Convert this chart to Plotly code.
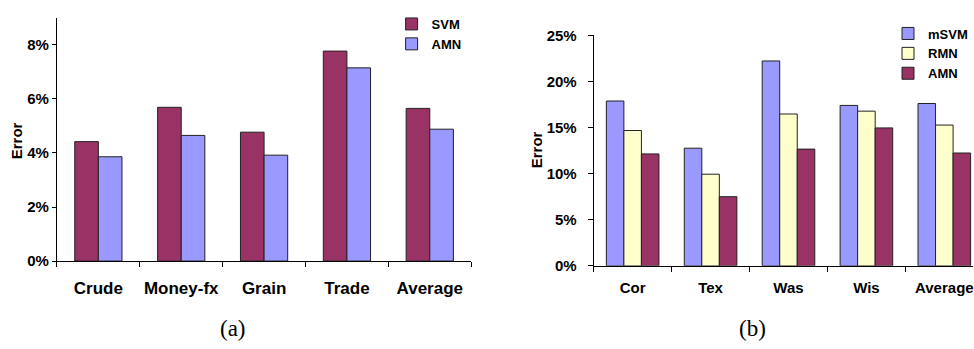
import plotly.graph_objects as go

# ---- data: panel (a) text categorisation error ----
cats_a = ["Crude", "Money-fx", "Grain", "Trade", "Average"]
svm_a = [0.0442, 0.0569, 0.0477, 0.0777, 0.0565]
amn_a = [0.0386, 0.0465, 0.0392, 0.0715, 0.0488]

# ---- data: panel (b) hypertext classification error ----
cats_b = ["Cor", "Tex", "Was", "Wis", "Average"]
msvm_b = [0.1788, 0.1276, 0.2222, 0.1740, 0.1761]
rmn_b = [0.1468, 0.0994, 0.1647, 0.1678, 0.1527]
amn_b = [0.1214, 0.0750, 0.1266, 0.1496, 0.1224]

W, H = 974, 349
MAROON = "#993366"
PERIWINKLE = "#9999FF"
CREAM = "#FFFFCC"
EDGE = "#222222"
FONT = "Liberation Sans"


def px_x(v):
    return v / W


def px_y(v):
    return 1 - v / H


fig = go.Figure()

# panel (a): two bars per category
bw_a = 0.285
fig.add_trace(go.Bar(x=cats_a, y=svm_a, name="SVM", xaxis="x", yaxis="y",
                     width=bw_a, offset=-bw_a,
                     marker=dict(color=MAROON, line=dict(color=EDGE, width=1)),
                     legend="legend"))
fig.add_trace(go.Bar(x=cats_a, y=amn_a, name="AMN", xaxis="x", yaxis="y",
                     width=bw_a, offset=0,
                     marker=dict(color=PERIWINKLE, line=dict(color=EDGE, width=1)),
                     legend="legend"))

# panel (b): three bars per category
bw_b = 0.225
for name, vals, col, off in [("mSVM", msvm_b, PERIWINKLE, -1.5),
                             ("RMN", rmn_b, CREAM, -0.5),
                             ("AMN", amn_b, MAROON, 0.5)]:
    fig.add_trace(go.Bar(x=cats_b, y=vals, name=name, xaxis="x2", yaxis="y2",
                         width=bw_b, offset=off * bw_b,
                         marker=dict(color=col, line=dict(color=EDGE, width=1)),
                         legend="legend2"))

tick_font = dict(family=FONT, size=15, color="black", weight="bold")
axis_common = dict(showline=True, linecolor="black", linewidth=1,
                   showgrid=False, zeroline=False, ticks="outside",
                   tickcolor="black", tickwidth=1, fixedrange=True)
label_font = dict(family=FONT, size=15, color="black", weight="bold")
caption_font = dict(family="Liberation Serif", size=23, color="black")

fig.update_layout(
    width=W, height=H,
    margin=dict(l=0, r=0, t=0, b=0),
    paper_bgcolor="white", plot_bgcolor="white",
    barmode="group",
    font=dict(family=FONT, color="black"),
    xaxis=dict(domain=[px_x(57), px_x(471.7)], anchor="y", type="category",
               range=[-0.5, 4.5], tickson="boundaries", ticklen=5, tickangle=0,
               tickfont=dict(family=FONT, size=17, color="black", weight="bold"),
               ticklabelstandoff=12, **axis_common),
    yaxis=dict(domain=[px_y(265), px_y(9.3)], anchor="x", range=[0, 0.09],
               dtick=0.02, tickformat=".0%", ticklen=4, tickfont=tick_font,
               **axis_common),
    xaxis2=dict(domain=[px_x(594.3), 1.0], anchor="y2", type="category",
                range=[-0.5, (W - 594.3) / 78.0 - 0.5], tickson="boundaries",
                ticklen=5, tickangle=0, tickfont=tick_font, ticklabelstandoff=8,
                **axis_common),
    yaxis2=dict(domain=[px_y(270), px_y(27.7)], anchor="x2", range=[0, 0.25],
                dtick=0.05, tickformat=".0%", ticklen=5, tickfont=tick_font,
                ticklabelstandoff=8, **axis_common),
    legend=dict(x=px_x(392), y=1.0, xanchor="left", yanchor="top",
                bgcolor="rgba(0,0,0,0)", borderwidth=0, tracegroupgap=0,
                font=dict(family=FONT, size=13, color="black", weight="bold")),
    legend2=dict(x=1.0, y=px_y(10), xanchor="right", yanchor="top",
                 bgcolor="rgba(0,0,0,0)", borderwidth=0, tracegroupgap=0,
                 font=dict(family=FONT, size=13, color="black", weight="bold")),
    annotations=[
        dict(text="Error", x=px_x(16), y=px_y(138), textangle=-90,
             font=label_font),
        dict(text="Error", x=px_x(537), y=px_y(148), textangle=-90,
             font=label_font),
        dict(text="(a)", x=px_x(233), y=px_y(336), font=caption_font),
        dict(text="(b)", x=px_x(753), y=px_y(336), font=caption_font),
    ],
)
fig.update_annotations(xref="paper", yref="paper", showarrow=False,
                       xanchor="center", yanchor="middle")

# page without body margin so the figure sits flush in the window
fig.write_html(
    "out.html",
    config=dict(displayModeBar=False),
    post_script="document.body.style.margin='0';"
                "document.body.style.overflow='hidden';",
)
